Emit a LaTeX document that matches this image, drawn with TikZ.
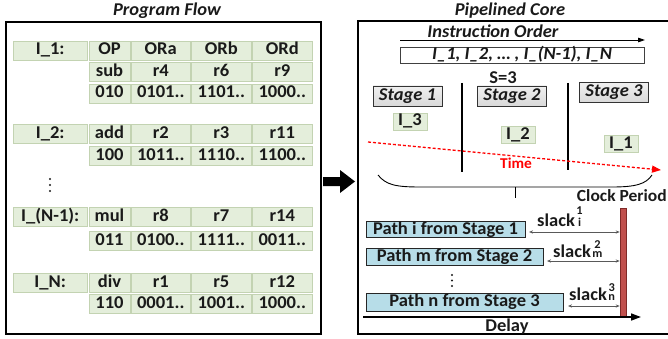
\documentclass[tikz,border=0pt]{standalone}
\usepackage{fontspec}
\setmainfont{Carlito}[FakeStretch=1.03]
\usetikzlibrary{arrows.meta}
\definecolor{cellg}{HTML}{E4EEDB}
\definecolor{cellb}{HTML}{C3D3B2}
\definecolor{pathb}{HTML}{B7DDE8}
\definecolor{barred}{HTML}{C0504D}
\definecolor{bardark}{HTML}{7F2A28}
\definecolor{txt}{HTML}{1A1A1A}
\newcommand\slk[2]{slack\kern1.5pt{\fontsize{12}{12}\selectfont\lineskip=1.5pt\shortstack{#1\\#2}}}
\begin{document}
\begin{tikzpicture}[x=1pt,y=-1pt,
  every node/.style={font=\fontsize{18}{20}\selectfont\bfseries, text=txt},
  cell/.style={draw=cellb, fill=cellg, line width=0.8pt, inner sep=0pt, minimum height=19pt, text height=12pt, text depth=3pt},
  lab/.style={cell, minimum width=74.5pt},
  cola/.style={cell, minimum width=41pt},
  colb/.style={cell, minimum width=58.5pt},
  colc/.style={cell, minimum width=59.5pt},
  smallcell/.style={cell, minimum width=34pt, minimum height=17pt},
  stagebox/.style={draw=black!80, top color=gray!12, bottom color=gray!30, line width=0.8pt, inner sep=0pt, minimum width=69pt, minimum height=20pt, text height=12pt, text depth=3pt, font=\fontsize{18}{20}\selectfont\bfseries\itshape},
  pathbox/.style={draw=black!85, fill=pathb, line width=0.8pt, inner sep=0pt, text height=12pt, text depth=3pt},
  ttl/.style={font=\fontsize{18}{20}\selectfont\bfseries\itshape},
  slackarrow/.style={draw=black!65, line width=0.7pt, {Stealth[length=4pt,width=3.2pt]}-{Stealth[length=4pt,width=3.2pt]}},
]
\useasboundingbox (0,0) rectangle (668,339);

% ---------- Program Flow ----------
\node[ttl] (pftitle) at (167,11) {Program Flow};
\draw[line width=1.4pt] (6,22) rectangle (321,334);

\node[lab] (l1) at (50.25,50.5) {I\_1:};
\node[cola] (r1op) at (109.5,50.5) {OP};
\node[colb] (r1a) at (160.75,50.5) {ORa};
\node[colc] (r1b) at (221.25,50.5) {ORb};
\node[colc] (r1d) at (282.25,50.5) {ORd};
\node[cola] (r2op) at (109.5,72) {sub};
\node[colb] (r2a) at (160.75,72) {r4};
\node[colc] (r2b) at (221.25,72) {r6};
\node[colc] (r2d) at (282.25,72) {r9};
\node[cola] (r3op) at (109.5,93.5) {010};
\node[colb] (r3a) at (160.75,93.5) {0101..};
\node[colc] (r3b) at (221.25,93.5) {1101..};
\node[colc] (r3d) at (282.25,93.5) {1000..};

\node[lab] (l2) at (50.25,134) {I\_2:};
\node[cola] (r4op) at (109.5,134) {add};
\node[colb] (r4a) at (160.75,134) {r2};
\node[colc] (r4b) at (221.25,134) {r3};
\node[colc] (r4d) at (282.25,134) {r11};
\node[cola] (r5op) at (109.5,156) {100};
\node[colb] (r5a) at (160.75,156) {1011..};
\node[colc] (r5b) at (221.25,156) {1110..};
\node[colc] (r5d) at (282.25,156) {1100..};

\fill[txt] (50,179) circle (1.2pt) (50,185) circle (1.2pt) (50,191) circle (1.2pt);

\node[lab] (l3) at (50.25,217) {I\_(N-1):};
\node[cola] (r6op) at (109.5,217) {mul};
\node[colb] (r6a) at (160.75,217) {r8};
\node[colc] (r6b) at (221.25,217) {r7};
\node[colc] (r6d) at (282.25,217) {r14};
\node[cola] (r7op) at (109.5,240.5) {011};
\node[colb] (r7a) at (160.75,240.5) {0100..};
\node[colc] (r7b) at (221.25,240.5) {1111..};
\node[colc] (r7d) at (282.25,240.5) {0011..};

\node[lab] (l4) at (50.25,283) {I\_N:};
\node[cola] (r8op) at (109.5,283) {div};
\node[colb] (r8a) at (160.75,283) {r1};
\node[colc] (r8b) at (221.25,283) {r5};
\node[colc] (r8d) at (282.25,283) {r12};
\node[cola] (r9op) at (109.5,304) {110};
\node[colb] (r9a) at (160.75,304) {0001..};
\node[colc] (r9b) at (221.25,304) {1001..};
\node[colc] (r9d) at (282.25,304) {1000..};

% ---------- big arrow ----------
\fill[black] (323,177) -- (340,177) -- (340,170) -- (355,181.5) -- (340,193) -- (340,186) -- (323,186) -- cycle;

% ---------- Pipelined Core ----------
\node[ttl] (pctitle) at (510,11) {Pipelined Core};
\draw[line width=1.4pt] (358,21) rectangle (690,334);

\node[ttl, anchor=base] (iotext) at (493,38) {Instruction Order};
\coordinate (ioS) at (400,40);
\coordinate (ioE) at (645,40);
\draw[line width=0.8pt, -{Triangle[length=7pt,width=4.5pt]}] (ioS) -- (ioE);
\node[draw=black!75, line width=0.8pt, fill=white, inner sep=0pt, minimum width=244pt, minimum height=16pt, text height=12pt, text depth=3pt, font=\fontsize{18}{20}\selectfont\bfseries\itshape] (ilist) at (522,55) {I\_1, I\_2, … , I\_(N-1), I\_N};

\node (s3) at (503,78) {S=3};
\node[stagebox] (st1) at (407.5,96) {Stage 1};
\node[stagebox] (st2) at (512,96) {Stage 2};
\node[stagebox] (st3) at (614,92.5) {Stage 3};

\draw[line width=1.4pt] (462,83) -- (462,172);
\draw[line width=1.4pt] (568,83) -- (568,170);

\node[smallcell] (i3) at (410,121.5) {I\_3};
\node[smallcell] (i2) at (518,135) {I\_2};
\node[smallcell] (i1) at (621,144) {I\_1};

\coordinate (tS) at (368,142);
\coordinate (tE) at (661,170);
\draw[red, line width=1.3pt, dash pattern=on 3pt off 2pt, -{Triangle[length=9pt,width=7pt]}] (tS) -- (tE);
\node[text=red, font=\fontsize{15}{16}\selectfont\bfseries] (time) at (516,163) {Time};

% brace
\draw[line width=0.9pt] (378,175) .. controls (386,185) and (396,187) .. (420,187) -- (612,187) .. controls (636,187) and (646,184) .. (652,175);
\draw[line width=0.9pt] (515,187) -- (515,198);

\node[anchor=east, inner sep=0pt, font=\fontsize{17}{20}\selectfont\bfseries] (clk) at (667,196) {Clock Period};

\node[draw=bardark, fill=barred, line width=0.6pt, inner sep=0pt, minimum width=6pt, minimum height=109pt] (bar) at (623,262.5) {};

\node[pathbox, minimum width=159pt, minimum height=16pt] (pi) at (445.5,229.5) {Path i from Stage 1};
\node[pathbox, minimum width=177pt, minimum height=17pt] (pm) at (454.5,256.5) {Path m from Stage 2};
\node[pathbox, minimum width=197pt, minimum height=18pt] (pn) at (464.5,302) {Path n from Stage 3};

\coordinate (s1) at (529,232);
\coordinate (s2) at (547,261);
\coordinate (s3a) at (568,306);
\draw[slackarrow] (s1) -- (s1 -| bar.west);
\draw[slackarrow] (s2) -- (s2 -| bar.west);
\draw[slackarrow] (s3a) -- (s3a -| bar.west);

\node[anchor=base west, inner sep=0pt] (sl1) at (537,226) {\slk{1}{i}};
\node[anchor=base west, inner sep=0pt] (sl2) at (553,257) {\slk{2}{m}};
\node[anchor=base west, inner sep=0pt] (sl3) at (569,300) {\slk{3}{n}};

\fill[txt] (452,275) circle (1.1pt) (452,280.5) circle (1.1pt) (452,286) circle (1.1pt);

\coordinate (dS) at (363,317);
\coordinate (dE) at (641,317);
\draw[line width=1.5pt, -{Triangle[length=10pt,width=7pt]}] (dS) -- (dE);
\node (delay) at (507,327) {Delay};
\end{tikzpicture}
\end{document}
